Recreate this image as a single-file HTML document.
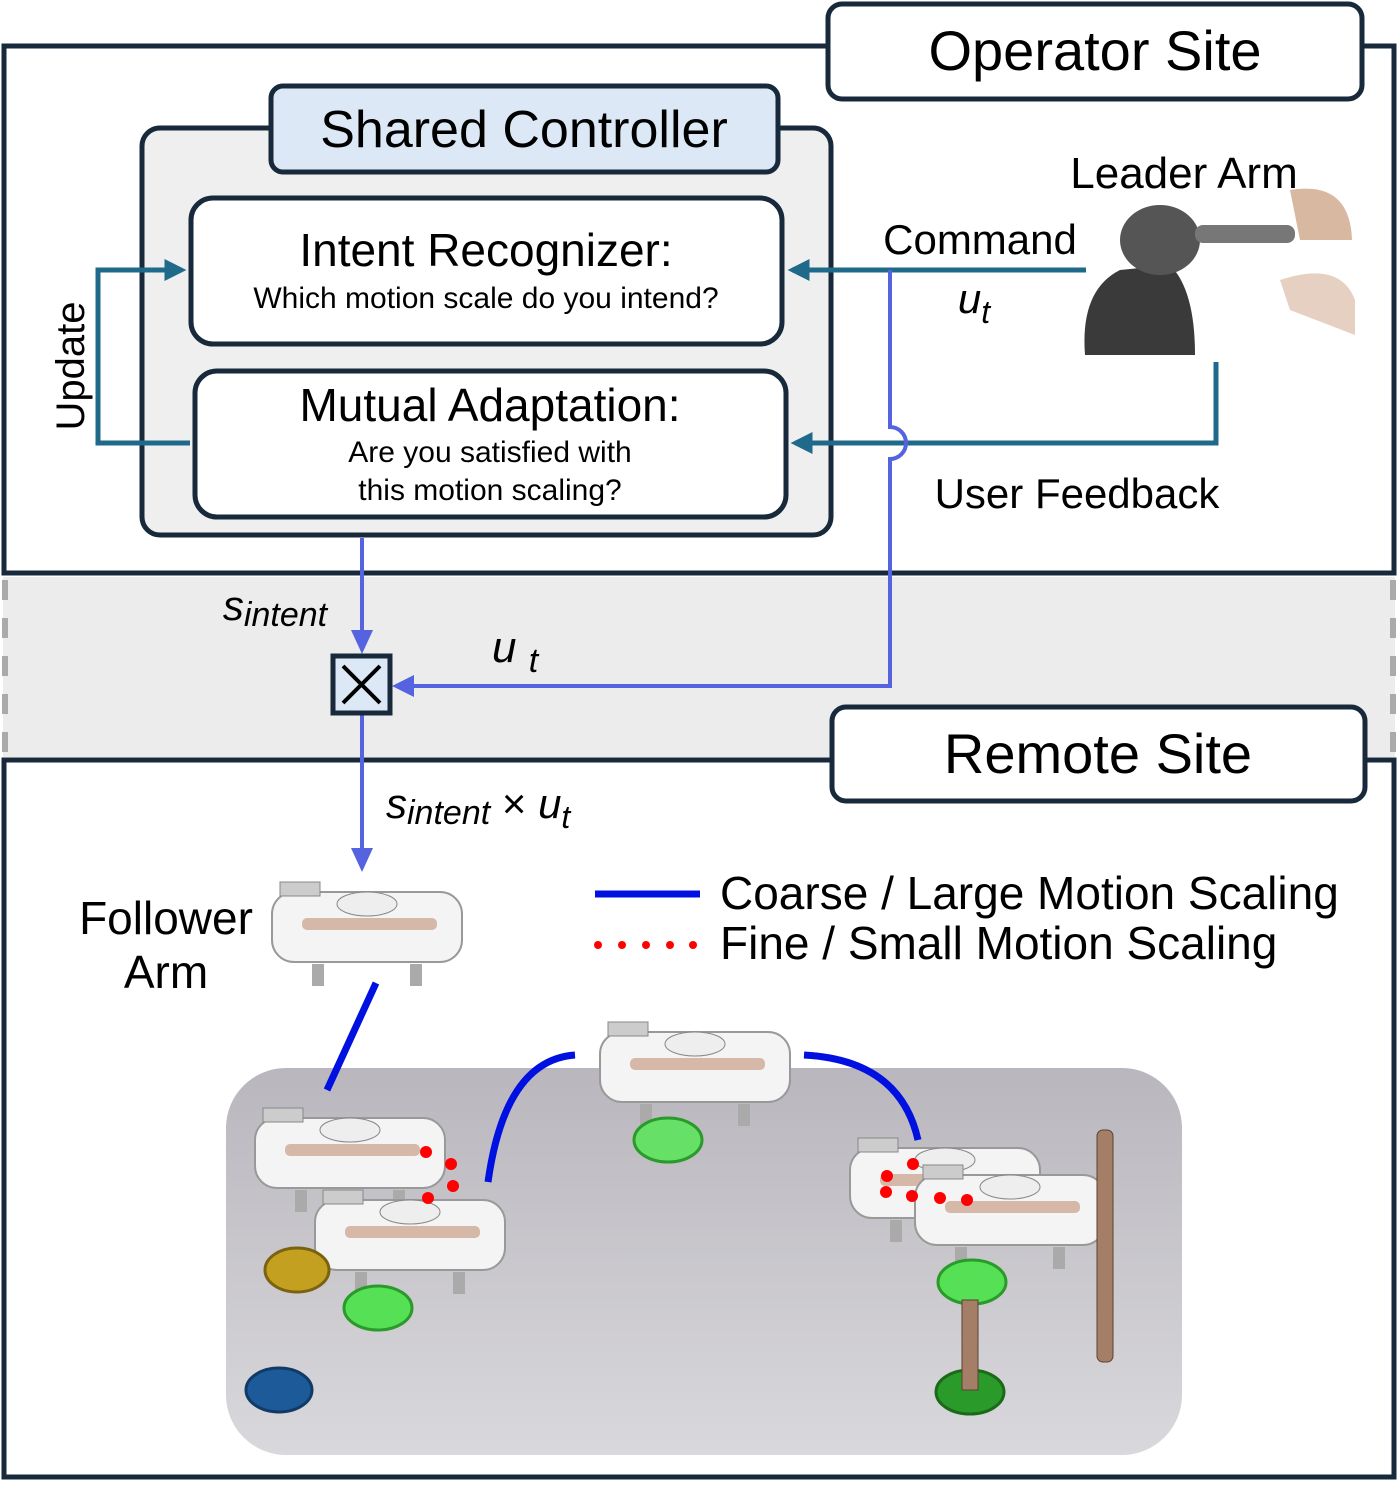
<!DOCTYPE html>
<html><head><meta charset="utf-8"><style>
body{margin:0;background:#fff}
svg text{font-family:"Liberation Sans",sans-serif}
</style></head><body>
<svg width="1398" height="1481" viewBox="0 0 1398 1481" xmlns="http://www.w3.org/2000/svg">
<defs>
<marker id="at" markerWidth="22" markerHeight="22" refX="8" refY="5" orient="auto" markerUnits="userSpaceOnUse" viewBox="0 0 10 10"><path d="M0,0L10,5L0,10z" fill="#1f6a8a"/></marker>
<linearGradient id="tbl" x1="0" y1="0" x2="0" y2="1"><stop offset="0" stop-color="#b9b7bd"/><stop offset="1" stop-color="#d9d8dc"/></linearGradient>
<g id="robot">
<rect x="0" y="10" width="190" height="70" rx="22" fill="#f4f4f4" stroke="#999" stroke-width="2"/>
<rect x="8" y="0" width="40" height="14" fill="#ccc" stroke="#888"/>
<ellipse cx="95" cy="22" rx="30" ry="12" fill="#eee" stroke="#888"/>
<rect x="30" y="36" width="135" height="12" rx="5" fill="#d6b8a8"/>
<rect x="40" y="82" width="12" height="22" fill="#aaa"/>
<rect x="138" y="82" width="12" height="22" fill="#aaa"/>
</g>
</defs>
<rect x="3" y="577" width="1392" height="180" fill="#ececec"/>
<line x1="5" y1="580" x2="5" y2="755" stroke="#aaa" stroke-width="6" stroke-dasharray="20,18"/>
<line x1="1393" y1="580" x2="1393" y2="755" stroke="#aaa" stroke-width="6" stroke-dasharray="20,18"/>
<rect x="4" y="46" width="1390" height="527" fill="none" stroke="#17293a" stroke-width="5"/>
<rect x="4" y="760" width="1390" height="717" fill="none" stroke="#17293a" stroke-width="5"/>
<rect x="828" y="4" width="534" height="95" rx="14" fill="#fff" stroke="#17293a" stroke-width="5"/>
<text x="1095" y="70" font-size="56" text-anchor="middle">Operator Site</text>
<rect x="832" y="707" width="533" height="94" rx="14" fill="#fff" stroke="#17293a" stroke-width="5"/>
<text x="1098" y="773" font-size="56" text-anchor="middle">Remote Site</text>
<rect x="142" y="128" width="689" height="407" rx="18" fill="#efefef" stroke="#17293a" stroke-width="5"/>
<rect x="271" y="86" width="507" height="86" rx="12" fill="#dce8f5" stroke="#17293a" stroke-width="5"/>
<text x="524" y="147" font-size="52" text-anchor="middle">Shared Controller</text>
<rect x="191" y="198" width="591" height="146" rx="22" fill="#fff" stroke="#17293a" stroke-width="5"/>
<text x="486" y="266" font-size="46" text-anchor="middle">Intent Recognizer:</text>
<text x="486" y="308" font-size="30" text-anchor="middle">Which motion scale do you intend?</text>
<rect x="195" y="371" width="591" height="146" rx="22" fill="#fff" stroke="#17293a" stroke-width="5"/>
<text x="490" y="421" font-size="46" text-anchor="middle">Mutual Adaptation:</text>
<text x="490" y="462" font-size="30" text-anchor="middle">Are you satisfied with</text>
<text x="490" y="500" font-size="30" text-anchor="middle">this motion scaling?</text>
<text transform="translate(84,366) rotate(-90)" font-size="40" text-anchor="middle">Update</text>
<path d="M190,443 H98 V270 H182" fill="none" stroke="#1f6a8a" stroke-width="5" marker-end="url(#at)"/>
<path d="M1086,270 H792" fill="none" stroke="#1f6a8a" stroke-width="5" marker-end="url(#at)"/>
<path d="M1216,362 V443 H795" fill="none" stroke="#1f6a8a" stroke-width="5" marker-end="url(#at)"/>
<text x="980" y="254" font-size="42" text-anchor="middle">Command</text>
<text x="974" y="313" font-size="42" font-style="italic" font-family="Liberation Serif" text-anchor="middle">u<tspan font-size="32" dy="10">t</tspan></text>
<text x="1077" y="508" font-size="42" text-anchor="middle">User Feedback</text>
<text x="1184" y="188" font-size="44" text-anchor="middle">Leader Arm</text>
<path d="M1085,355 Q1080,290 1120,270 L1170,265 Q1195,290 1195,355 Z" fill="#3a3a3a"/>
<ellipse cx="1160" cy="240" rx="40" ry="35" fill="#555"/>
<rect x="1195" y="225" width="100" height="18" rx="8" fill="#777"/>
<path d="M1290,190 Q1350,180 1352,240 L1300,240 Z" fill="#d8b8a0"/>
<path d="M1280,280 Q1340,260 1355,300 L1355,335 L1290,310 Z" fill="#e6d0c2"/>
<path d="M890,270 V427 A16,16 0 0 1 890,459 V686 H400" fill="none" stroke="#5563e0" stroke-width="4"/>
<path d="M392,686 L414,675 L414,697 Z" fill="#5563e0"/>
<path d="M362,538 V632" stroke="#5563e0" stroke-width="4"/>
<path d="M362,654 L351,630 L373,630 Z" fill="#5563e0"/>
<path d="M362,714 V850" stroke="#5563e0" stroke-width="4"/>
<path d="M362,872 L351,848 L373,848 Z" fill="#5563e0"/>
<rect x="333" y="656" width="57" height="57" fill="#dce8f5" stroke="#17293a" stroke-width="5"/>
<path d="M343,666 L380,703 M380,666 L343,703" stroke="#000" stroke-width="4"/>
<text x="275" y="620" font-size="42" font-style="italic" font-family="Liberation Serif" text-anchor="middle">s<tspan font-size="34" dy="6">intent</tspan></text>
<text x="492" y="662" font-size="44" font-style="italic" font-family="Liberation Serif">u <tspan font-size="34" dy="10">t</tspan></text>
<text x="386" y="818" font-size="42" font-style="italic" font-family="Liberation Serif">s<tspan font-size="34" dy="6">intent</tspan><tspan dy="-6" font-style="normal"> × </tspan>u<tspan font-size="32" dy="10">t</tspan></text>
<line x1="595" y1="894" x2="700" y2="894" stroke="#0010e0" stroke-width="7"/>
<g fill="#f00"><circle cx="598" cy="945" r="4"/><circle cx="622" cy="945" r="4"/><circle cx="646" cy="945" r="4"/><circle cx="670" cy="945" r="4"/><circle cx="693" cy="945" r="4"/></g>
<text x="720" y="909" font-size="46">Coarse / Large Motion Scaling</text>
<text x="720" y="959" font-size="46">Fine / Small Motion Scaling</text>
<text x="166" y="934" font-size="46" text-anchor="middle">Follower</text>
<text x="166" y="988" font-size="46" text-anchor="middle">Arm</text>
<rect x="226" y="1068" width="956" height="387" rx="60" fill="url(#tbl)"/>
<use href="#robot" x="272" y="882"/>
<use href="#robot" x="600" y="1022"/>
<use href="#robot" x="255" y="1108"/>
<use href="#robot" x="315" y="1190"/>
<use href="#robot" x="850" y="1138"/>
<use href="#robot" x="915" y="1165"/>
<g stroke-width="3">
<ellipse cx="297" cy="1270" rx="32" ry="22" fill="#c4a020" stroke="#7a6310"/>
<ellipse cx="378" cy="1308" rx="34" ry="22" fill="#55e055" stroke="#2a9a2a"/>
<ellipse cx="668" cy="1140" rx="34" ry="22" fill="#66e066" stroke="#2a9a2a"/>
<ellipse cx="279" cy="1390" rx="33" ry="22" fill="#1d5a9a" stroke="#123a66"/>
<ellipse cx="972" cy="1282" rx="34" ry="22" fill="#55e055" stroke="#2a9a2a"/>
<ellipse cx="970" cy="1392" rx="34" ry="22" fill="#2a9a2a" stroke="#1a6a1a"/>
</g>
<rect x="1097" y="1130" width="16" height="232" rx="6" fill="#a57e68" stroke="#5a4030"/>
<rect x="962" y="1300" width="16" height="90" fill="#a57e68" stroke="#5a4030"/>
<path d="M376,983 L327,1090" stroke="#0010e0" stroke-width="7" fill="none"/>
<path d="M488,1182 Q505,1060 575,1055" stroke="#0010e0" stroke-width="7" fill="none"/>
<path d="M804,1055 Q900,1060 918,1140" stroke="#0010e0" stroke-width="7" fill="none"/>
<g fill="#f00"><circle cx="426" cy="1152" r="6"/><circle cx="451" cy="1164" r="6"/><circle cx="453" cy="1186" r="6"/><circle cx="428" cy="1198" r="6"/>
<circle cx="913" cy="1164" r="6"/><circle cx="887" cy="1176" r="6"/><circle cx="886" cy="1192" r="6"/><circle cx="912" cy="1196" r="6"/><circle cx="940" cy="1198" r="6"/><circle cx="967" cy="1200" r="6"/></g>
</svg>
</body></html>
